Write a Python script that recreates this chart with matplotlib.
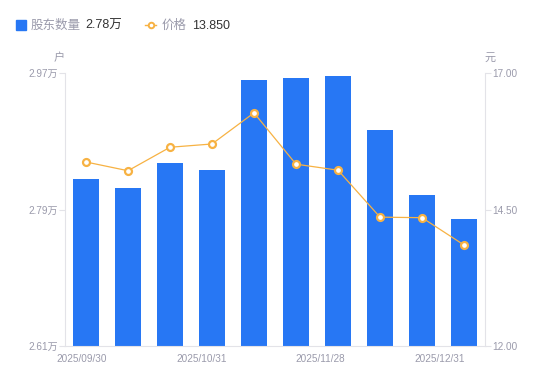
import numpy as np
import matplotlib.pyplot as plt
from matplotlib.lines import Line2D

plt.rcParams['font.family'] = ['Liberation Sans', 'Noto Sans CJK SC', 'DejaVu Sans']

# data
dates = ['2025/09/30', '2025/10/31', '2025/11/28', '2025/12/31']
holders = [2.830, 2.818, 2.851, 2.842, 2.961, 2.963, 2.966, 2.895, 2.809, 2.778]  # 万户
price = [15.37, 15.21, 15.64, 15.70, 16.27, 15.33, 15.22, 14.36, 14.35, 13.85]
left_ticks = [2.61, 2.79, 2.97]
right_ticks = [12.00, 14.50, 17.00]

BLUE = '#2777f4'
ORANGE = '#f7b243'
GRAY = '#9a9aab'
AXIS = '#e3e3e8'

fig = plt.figure(figsize=(5.5, 3.81), dpi=100)
ax = fig.add_axes([65/550, 35/381, 420/550, 273/381])
x = np.arange(len(holders))
ax.bar(x, holders, width=0.6, color=BLUE, zorder=2)
ax.set_xlim(-0.5, len(holders) - 0.5)
ax.set_ylim(left_ticks[0], left_ticks[-1])
ax.set_yticks(left_ticks)
ax.set_yticklabels([f'{v:.2f}万' for v in left_ticks])

ax2 = ax.twinx()
ax2.plot(x, price, color=ORANGE, lw=0.9, marker='o', ms=5, mfc='white',
         mec=ORANGE, mew=1.6, zorder=3)
ax2.set_ylim(right_ticks[0], right_ticks[-1])
ax2.set_yticks(right_ticks)
ax2.set_yticklabels([f'{v:.2f}' for v in right_ticks])

# date labels spread evenly across the bottom
ax.set_xticks(np.linspace(-0.1, 8.43, len(dates)))
ax.set_xticklabels(dates)

for a in (ax, ax2):
    for s in a.spines.values():
        s.set_visible(False)
    a.tick_params(colors=AXIS, labelcolor=GRAY, labelsize=7.2, length=4, width=0.8)
ax.tick_params(axis='x', length=0, pad=6)
ax.spines['left'].set_visible(True)
ax.spines['left'].set_color(AXIS)
ax.spines['bottom'].set_visible(True)
ax.spines['bottom'].set_color(AXIS)
ax2.spines['right'].set_visible(True)
ax2.spines['right'].set_color(AXIS)
ax.tick_params(axis='y', pad=1)
ax2.tick_params(axis='y', pad=1)

# units
fig.text(59/550, 1 - 58/381, '户', color=GRAY, fontsize=8, ha='center', va='center')
fig.text(490/550, 1 - 58/381, '元', color=GRAY, fontsize=8, ha='center', va='center')

# legend
ly = 1 - 26/381
fig.text(31/550, ly, '股东数量', color=GRAY, fontsize=9, va='center')
fig.text(85/550, ly, f'{holders[-1]:.2f}万', color='#333333', fontsize=9, va='center')
fig.text(162/550, ly, '价格', color=GRAY, fontsize=9, va='center')
fig.text(192/550, ly, f'{price[-1]:.3f}', color='#333333', fontsize=9, va='center')
my = 1 - 24.5/381
fig.add_artist(Line2D([21/550], [my], marker='s', color=BLUE, ms=7, transform=fig.transFigure))
fig.add_artist(Line2D([145/550, 156/550], [my] * 2, color=ORANGE, lw=1,
                      transform=fig.transFigure))
fig.add_artist(Line2D([150.5/550], [my], marker='o', ms=4, mfc='white', mec=ORANGE,
                      mew=1.4, transform=fig.transFigure))

fig.savefig('out.png', dpi=100)
